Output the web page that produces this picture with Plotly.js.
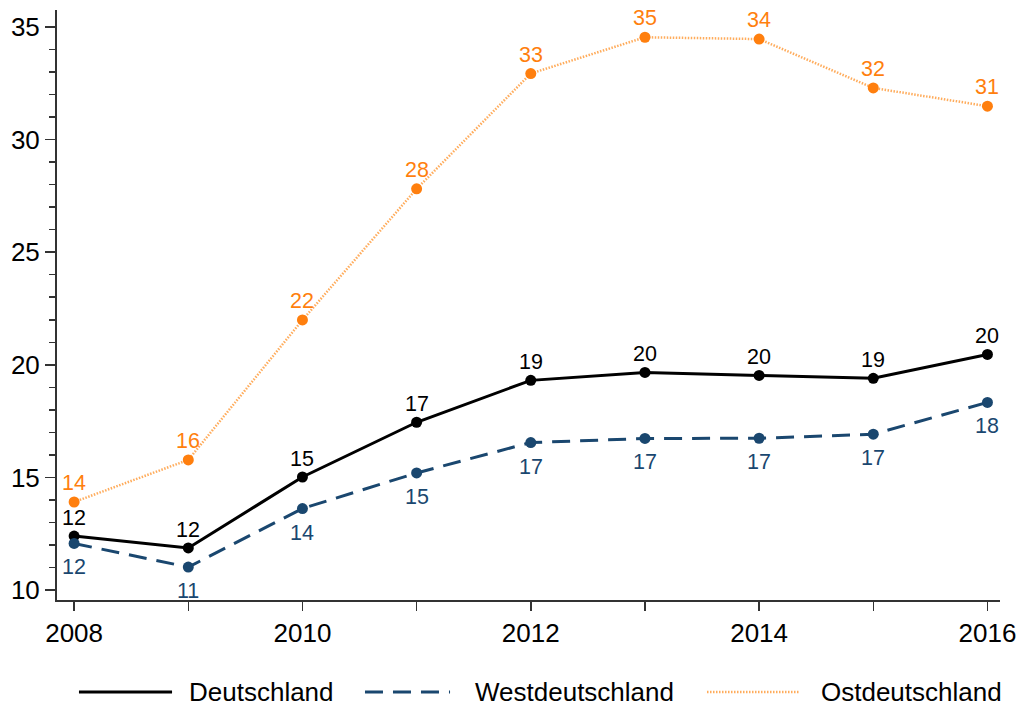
<!DOCTYPE html>
<html><head><meta charset="utf-8">
<script src="https://cdn.plot.ly/plotly-3.0.1.min.js"></script>
<style>body{margin:0;background:#fff}#c{width:1018px;height:707px}</style>
</head><body><div id="c"></div>
<script>
const years = [2008, 2009, 2010, 2011, 2012, 2013, 2014, 2015, 2016];
const deutschland = [12.40, 11.87, 15.02, 17.45, 19.31, 19.66, 19.53, 19.40, 20.46];
const westdeutschland = [12.07, 11.02, 13.62, 15.20, 16.55, 16.73, 16.74, 16.92, 18.33];
const ostdeutschland = [13.91, 15.78, 21.99, 27.81, 32.93, 34.54, 34.46, 32.29, 31.48];
const names = ['Deutschland', 'Westdeutschland', 'Ostdeutschland'];

const cD = '#000000', cW = '#1a476f', cO = '#ff7f0e', cOline = '#ffac5c';
const font = 'Liberation Sans, Arial, sans-serif';
const lD = {color: cD, width: 3};
const lW = {color: cW, width: 3, dash: '18px,10px'};
const lO = {color: cOline, width: 2.5, dash: '1.5px,1.5px'};

const series = [
  {y: deutschland, line: lD, color: cD, shift: 18},
  {y: westdeutschland, line: lW, color: cW, shift: -24},
  {y: ostdeutschland, line: lO, color: cO, shift: 19}
];

const traces = [];
series.forEach((s, i) => traces.push({x: years, y: s.y, name: names[i], mode: 'lines', line: s.line, showlegend: false}));
series.forEach((s, i) => traces.push({x: years, y: s.y, name: names[i], mode: 'markers', showlegend: false,
  marker: {color: s.color, size: 11}, cliponaxis: false}));

// value labels
const annotations = [];
series.forEach(s => s.y.forEach((v, j) => annotations.push({
  x: years[j], y: v, xref: 'x', yref: 'y', text: String(Math.round(v)), showarrow: false,
  xanchor: 'center', yanchor: 'middle', yshift: s.shift,
  font: {size: 21.5, family: font, color: s.color}})));

// custom legend (long line samples) in paper coordinates
const legY = -0.156;
const legItems = [
  {x0: 0.0233, x1: 0.1220, tx: 0.1379, line: lD},
  {x0: 0.3266, x1: 0.4168, tx: 0.4411, line: lW},
  {x0: 0.6893, x1: 0.7869, tx: 0.8081, line: lO}
];
const shapes = legItems.map(it => ({type: 'line', xref: 'paper', yref: 'paper',
  x0: it.x0, x1: it.x1, y0: legY, y1: legY, line: it.line}));
legItems.forEach((it, i) => annotations.push({xref: 'paper', yref: 'paper', x: it.tx, y: legY,
  xanchor: 'left', yanchor: 'middle', showarrow: false, text: names[i],
  font: {size: 26, family: font, color: '#000'}}));

const layout = {
  width: 1018, height: 707,
  margin: {l: 57, r: 18, t: 10, b: 107},
  paper_bgcolor: '#fff', plot_bgcolor: '#fff',
  font: {family: font, color: '#000'},
  showlegend: false,
  shapes: shapes, annotations: annotations,
  xaxis: {range: [2007.85, 2016.11], tickvals: [2008, 2010, 2012, 2014, 2016],
          showgrid: false, zeroline: false, showline: true, linecolor: '#333', linewidth: 2,
          ticks: 'outside', ticklen: 9, tickwidth: 1.5, tickcolor: '#333',
          tickfont: {size: 26, family: font},
          minor: {tickvals: [2009, 2011, 2013, 2015], ticks: 'outside', ticklen: 9, tickwidth: 1.5, tickcolor: '#333', showgrid: false}},
  yaxis: {range: [9.56, 35.75], tickvals: [10, 15, 20, 25, 30, 35],
          showgrid: false, zeroline: false, showline: true, linecolor: '#333', linewidth: 2,
          ticks: 'outside', ticklen: 10, tickwidth: 1.5, tickcolor: '#333',
          tickfont: {size: 26, family: font},
          minor: {dtick: 1, ticks: 'outside', ticklen: 6, tickwidth: 1.5, tickcolor: '#333', showgrid: false}}
};
Plotly.newPlot('c', traces, layout, {displayModeBar: false, staticPlot: true});
</script></body></html>
